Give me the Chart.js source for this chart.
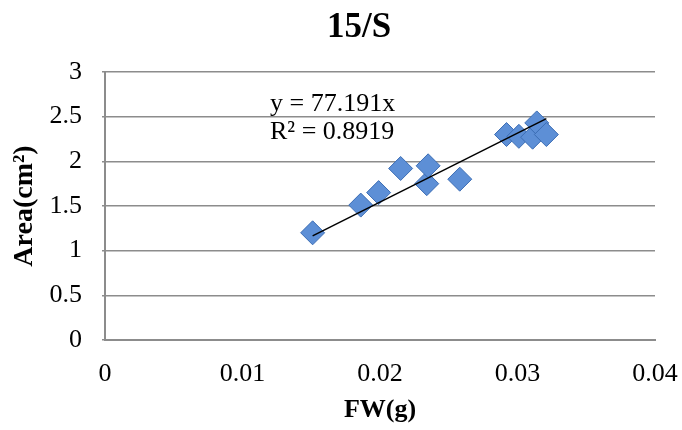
<!DOCTYPE html>
<html>
<head>
<meta charset="utf-8">
<script src="https://cdn.jsdelivr.net/npm/chart.js@4"></script>
<style>
  body { margin: 0; background: #fff; }
  canvas { display: block; }
</style>
</head>
<body>
<canvas id="myChart" width="682" height="430"></canvas>
<script>
/* dati */
const fwValues   = [0.0151, 0.0186, 0.0199, 0.0215, 0.0234, 0.0235, 0.0258, 0.0292, 0.0301, 0.0311, 0.0314, 0.0321];
const areaValues = [1.20, 1.51, 1.65, 1.92, 1.75, 1.95, 1.80, 2.30, 2.28, 2.27, 2.43, 2.30];
const slope = 77.191;
const rSquared = '0.8919';
const xTicks = [0, 0.01, 0.02, 0.03, 0.04];
const yTicks = [0, 0.5, 1, 1.5, 2, 2.5, 3];

const serif = '"Liberation Serif", "Times New Roman", serif';

/* linea di tendenza: y = slope * x sul range dei dati */
const xMin = Math.min(...fwValues);
const xMax = Math.max(...fwValues);
const trend = [
  { x: xMin, y: slope * xMin },
  { x: xMax, y: slope * xMax }
];

/* titolo ed equazione disegnati a mano */
const textPlugin = {
  id: 'textPlugin',
  afterDraw(chart) {
    const ctx = chart.ctx;
    ctx.save();
    ctx.fillStyle = '#000';
    ctx.font = 'bold 35px ' + serif;
    ctx.textAlign = 'center';
    ctx.textBaseline = 'alphabetic';
    ctx.fillText('15/S', 359, 37);

    ctx.font = '26px ' + serif;
    ctx.textAlign = 'left';
    ctx.fillText('y = 77.191x', 270, 111);
    ctx.fillText('R\u00B2 = ' + rSquared, 270, 139);
    ctx.restore();
  }
};

const data = {
  datasets: [
    {
      type: 'line',
      data: trend,
      borderColor: '#000',
      borderWidth: 1.5,
      pointRadius: 0,
      fill: false,
      order: 0
    },
    {
      type: 'scatter',
      data: fwValues.map((x, i) => ({ x: x, y: areaValues[i] })),
      pointStyle: 'rectRot',
      pointRadius: 12,
      backgroundColor: '#5d8fd6',
      borderColor: '#3c6db4',
      borderWidth: 1,
      order: 1
    }
  ]
};

const config = {
  type: 'scatter',
  data: data,
  options: {
    responsive: false,
    animation: false,
    devicePixelRatio: 1,
    layout: { padding: { top: 72, right: 27, left: 0, bottom: 0 } },
    plugins: {
      legend: { display: false },
      tooltip: { enabled: false },
      title: { display: false }
    },
    scales: {
      x: {
        type: 'linear',
        min: 0,
        max: 0.04,
        afterBuildTicks: s => { s.ticks = xTicks.map(v => ({ value: v })); },
        afterFit: s => { s.height = 90; s.paddingRight = 0; s.paddingLeft = 0; },
        ticks: {
          color: '#000',
          font: { family: serif, size: 26 },
          padding: 19,
          maxRotation: 0,
          callback: v => String(v)
        },
        grid: { display: false, drawTicks: false },
        border: { display: true, color: '#8c8c8c', width: 2 },
        title: {
          display: true,
          text: 'FW(g)',
          color: '#000',
          font: { family: serif, size: 26, weight: 'bold' },
          padding: { top: 0, bottom: 4 }
        }
      },
      y: {
        min: 0,
        max: 3,
        afterBuildTicks: s => { s.ticks = yTicks.map(v => ({ value: v })); },
        afterFit: s => { s.width = 105; },
        ticks: {
          color: '#000',
          font: { family: serif, size: 26 },
          padding: 20,
          callback: v => String(v)
        },
        grid: { color: '#8c8c8c', lineWidth: 1.5, tickLength: 3 },
        border: { display: true, color: '#8c8c8c', width: 2 },
        title: {
          display: true,
          text: 'Area(cm\u00B2)',
          color: '#000',
          font: { family: serif, size: 28, weight: 'bold' },
          padding: { top: 8, bottom: 0 }
        }
      }
    }
  },
  plugins: [textPlugin]
};

const myChart = new Chart(document.getElementById('myChart').getContext('2d'), config);
</script>
</body>
</html>
